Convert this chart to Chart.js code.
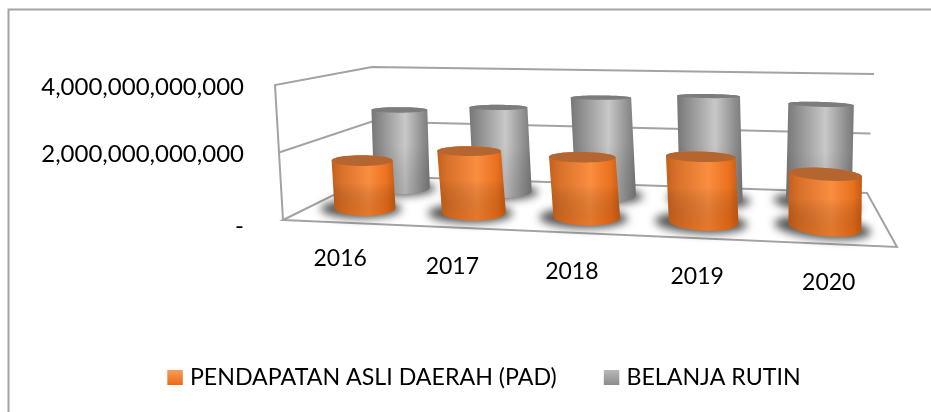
<!DOCTYPE html>
<html><head><meta charset="utf-8">
<style>html,body{margin:0;padding:0;background:#fff}canvas{display:block}</style>
<script src="https://cdn.jsdelivr.net/npm/chart.js@4"></script>
</head><body>
<canvas id="c" width="931" height="412"></canvas>
<script>
const categories = ['2016','2017','2018','2019','2020'];
const padValues = [1.48e12, 1.88e12, 1.80e12, 1.92e12, 1.52e12];
const belanjaValues = [2.68e12, 2.84e12, 3.24e12, 3.36e12, 3.16e12];
const seriesNames = ['PENDAPATAN ASLI DAERAH (PAD)', 'BELANJA RUTIN'];

const FONT = 'Lato';
const AXIS_MAX = 4e12;
// perspective frame of the 3-D box: front-left, front-right, back-right, back-left
const floorQuad = [[283,220],[897,247],[867,193],[372,176]];
const roofQuad  = [[275,85],[905,98],[874,74],[372,67]];
function homography(q){
  const [[x0,y0],[x1,y1],[x2,y2],[x3,y3]] = q;
  const dx1=x1-x2,dx2=x3-x2,dx3=x0-x1+x2-x3,dy1=y1-y2,dy2=y3-y2,dy3=y0-y1+y2-y3;
  const den=dx1*dy2-dx2*dy1, g=(dx3*dy2-dx2*dy3)/den, h=(dx1*dy3-dx3*dy1)/den;
  const a=x1-x0+g*x1,b=x3-x0+h*x3,d=y1-y0+g*y1,e=y3-y0+h*y3;
  return (u,v)=>{const w=g*u+h*v+1;return [(a*u+b*v+x0)/w,(d*u+e*v+y0)/w];};
}
const floorH = homography(floorQuad), roofH = homography(roofQuad);
function project(u,d,z){const f=floorH(u,d),r=roofH(u,d);return [f[0]+(r[0]-f[0])*z,f[1]+(r[1]-f[1])*z];}

const depths = [0.28, 0.74];
const warps = [0.022, 0.045];
const styles = [
 {stops:['#c4601c','#d8712a','#fa8e40','#e9711f','#c45c16'],top:'#b5652f',shade:'rgba(200,80,0,0.35)'},
 {stops:['#767676','#8c8c8c','#c8c8c8','#909090','#787878'],top:'#7c7c7c',shade:'rgba(70,70,70,0.18)'}
];
const RD = 0.16, N = 48;
// a disc on the floor, lifted to height z; it flattens as it nears eye level
function ring(cu,cd,ru,rd,z,t0,t1){
  const out=[], c=project(cu,cd,z), sy=1-0.85*z;
  const W=(project(cu+ru,cd,0)[0]-project(cu-ru,cd,0)[0])/2;
  const H=(project(cu,cd-rd,0)[1]-project(cu,cd+rd,0)[1])/2*sy;
  const slope=0.13*cu*cu*cu*sy;
  for(let i=0;i<=N;i++){
    const t=t0+(t1-t0)*i/N, cs=Math.cos(t);
    out.push([c[0]+W*cs,c[1]-H*Math.sin(t)+W*cs*slope]);
  }
  return out;
}
function poly(ctx,pts){ctx.beginPath();pts.forEach((p,i)=>i?ctx.lineTo(p[0],p[1]):ctx.moveTo(p[0],p[1]));ctx.closePath();}
function drawLine(ctx,pts){ctx.beginPath();pts.forEach((p,i)=>i?ctx.lineTo(p[0],p[1]):ctx.moveTo(p[0],p[1]));ctx.stroke();}
function barU(el,area,ds){const u=(el.x-area.left)/area.width;return u+warps[ds]*u*(1-u);}

const box3d = {
  id:'box3d',
  beforeDraw(chart){
    const ctx=chart.ctx;
    ctx.save();
    ctx.strokeStyle='#a3a3a3';ctx.lineWidth=2;
    drawLine(ctx,[[8.5,412],[8.5,9.5],[931,9.5]]);
    ctx.restore();
    chart.legend.top=321.5;
    // move the axis' own labels onto the perspective frame
    const xs=chart.scales.x, ys=chart.scales.y, area=chart.chartArea;
    xs._computeLabelArea=()=>undefined;
    ys._computeLabelArea=()=>undefined;
    xs.getLabelItems(area).forEach((it,i)=>{
      const u=(xs.getPixelForTick(i)-area.left)/area.width;
      const p=project(u,0,0);
      it.options.translation=[p[0]+(i===0?2:0),p[1]+(i===0?22:25)];
      it.options.textBaseline='middle';
    });
    ys.getLabelItems(area).forEach((it,i)=>{
      const v=ys.ticks[i].value, dy=v===0?6:2;
      it.options.translation=[it.options.translation[0],project(0,0,v/AXIS_MAX)[1]+dy];
      it.options.textBaseline='middle';
    });
  },
  beforeDatasetsDraw(chart){
    const ctx=chart.ctx;
    ctx.save();
    ctx.strokeStyle='#a3a3a3';ctx.lineWidth=2;ctx.lineJoin='miter';
    drawLine(ctx,[project(0,0,0),project(0,0,1),project(0,1,1),project(1,1,1)]);
    drawLine(ctx,[project(0,0,0.5),project(0,1,0.5),project(1,1,0.5)]);
    poly(ctx,[project(0,0,0),project(1,0,0),project(1,1,0),project(0,1,0)]);ctx.stroke();
    ctx.restore();
    const area=chart.chartArea;
    // back series first, front series over it
    for(let ds=1;ds>=0;ds--){
      chart.getDatasetMeta(ds).data.forEach(el=>{
        const u=barU(el,area,ds), ru=el.width/2/area.width, d=depths[ds];
        ctx.save();
        ctx.filter='blur(4.5px)';
        ctx.fillStyle='rgba(45,45,45,0.8)';
        poly(ctx,ring(u-0.004,d-0.02,ru*1.32,RD*1.2,0,0,Math.PI*2));ctx.fill();
        ctx.restore();
      });
    }
    for(let ds=1;ds>=0;ds--){
      const st=styles[ds];
      chart.getDatasetMeta(ds).data.forEach(el=>{
        const u=barU(el,area,ds), ru=el.width/2/area.width;
        const z=(el.base-el.y)/area.height, d=depths[ds];
        const body=ring(u,d,ru,RD,0,Math.PI,Math.PI*2).concat(ring(u,d,ru,RD,z,0,Math.PI));
        const xs=body.map(p=>p[0]), ys=body.map(p=>p[1]);
        const x0=Math.min(...xs),x1=Math.max(...xs),y0=Math.min(...ys),y1=Math.max(...ys);
        const g=ctx.createLinearGradient(x0,0,x1,0);
        [0,0.15,0.58,0.87,1].forEach((s,i)=>g.addColorStop(s,st.stops[i]));
        ctx.fillStyle=g;poly(ctx,body);ctx.fill();
        const v=ctx.createLinearGradient(0,y0,0,y1);
        v.addColorStop(0,'rgba(0,0,0,0)');v.addColorStop(0.45,'rgba(0,0,0,0)');v.addColorStop(1,st.shade);
        ctx.fillStyle=v;poly(ctx,body);ctx.fill();
        ctx.fillStyle=st.top;poly(ctx,ring(u,d,ru,RD,z,0,Math.PI*2));ctx.fill();
      });
    }
  },
  beforeDatasetDraw(){return false;},
  afterDraw(chart){
    // legend swatches sit closer to their text than the library's fixed gap
    const ctx=chart.ctx;
    chart.legend.legendHitBoxes.forEach((hit,i)=>{
      const g=ctx.createLinearGradient(0,370,0,385);
      if(i===0){g.addColorStop(0,'#f79a5a');g.addColorStop(1,'#ee6a10');}
      else{g.addColorStop(0,'#b8b8b8');g.addColorStop(1,'#8c8c8c');}
      ctx.fillStyle=g;ctx.fillRect(hit.left+3,370,15.5,15);
    });
  }
};

const tickFont={family:FONT,size:23};
new Chart(document.getElementById('c'),{
  type:'bar',
  data:{labels:categories,datasets:[
    {label:seriesNames[0],data:padValues,backgroundColor:'#f07a22',grouped:false,barPercentage:0.58,categoryPercentage:1},
    {label:seriesNames[1],data:belanjaValues,backgroundColor:'#a5a5a5',grouped:false,barPercentage:0.58,categoryPercentage:1}
  ]},
  options:{
    responsive:false,animation:false,devicePixelRatio:1,
    layout:{padding:{left:68,right:34,top:85,bottom:0}},
    scales:{
      x:{grid:{display:false},border:{display:false},ticks:{color:'#000',font:tickFont,maxRotation:0,autoSkip:false},
         afterFit(s){s.height=111;}},
      y:{min:0,max:AXIS_MAX,grid:{display:false},border:{display:false},
         ticks:{color:'#000',font:{family:FONT,size:24},padding:31,stepSize:2e12,
                callback:v=>v===0?'-':v.toLocaleString('en-US')},
         afterFit(s){s.width=215;}}
    },
    plugins:{
      tooltip:{enabled:false},
      legend:{position:'bottom',labels:{color:'#000',font:{family:FONT,size:23.2},boxWidth:14,boxHeight:14,padding:44,
        generateLabels(){
          return seriesNames.map((t,i)=>({text:t,fillStyle:'rgba(0,0,0,0)',strokeStyle:'transparent',lineWidth:0,datasetIndex:i,hidden:false,fontColor:'#000'}));
        }}}
    }
  },
  plugins:[box3d]
});
</script>
</body></html>
